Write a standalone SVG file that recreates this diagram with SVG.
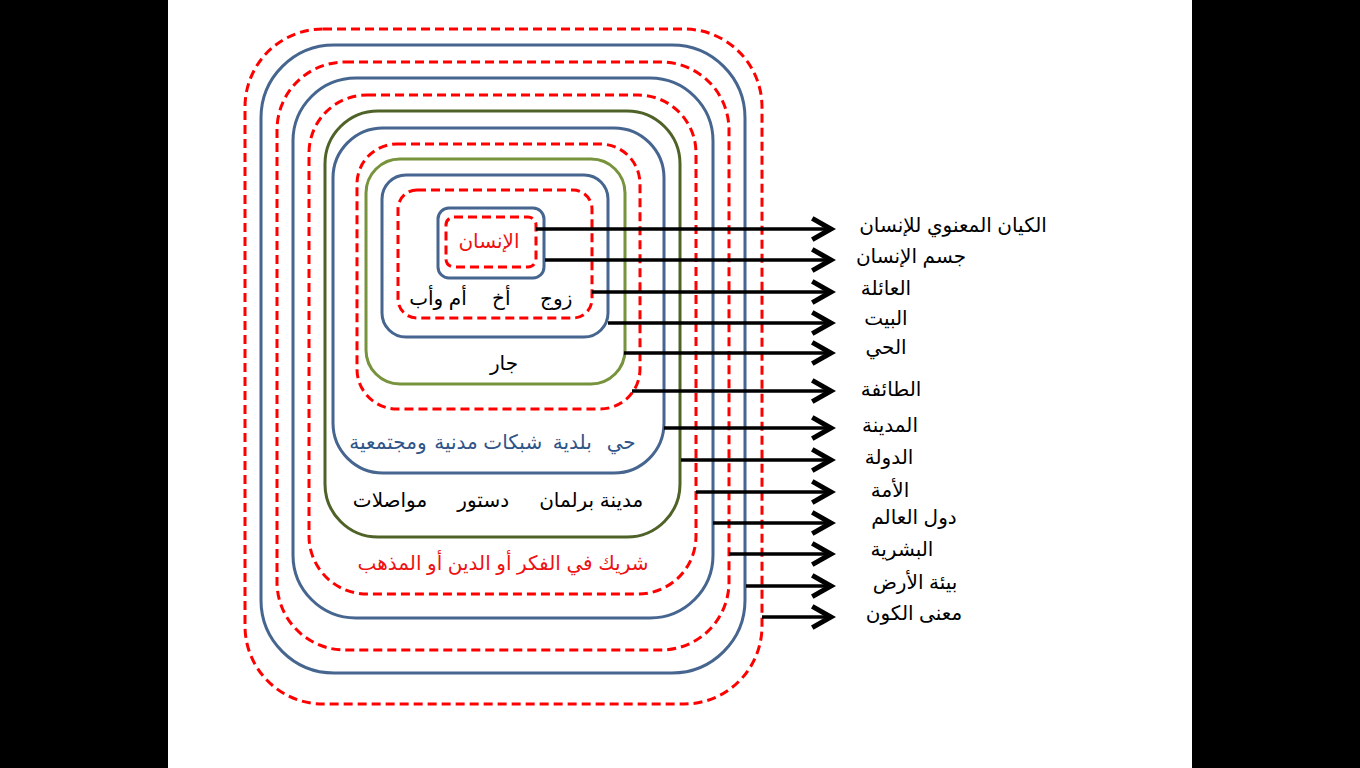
<svg xmlns="http://www.w3.org/2000/svg" width="1360" height="768" viewBox="0 0 1360 768">
<defs>
<style>
.red{fill:none;stroke:#ff0000;stroke-width:3;stroke-dasharray:9 5}
.blue{fill:none;stroke:#46658f;stroke-width:3}
.dg{fill:none;stroke:#4f6228;stroke-width:3}
.lg{fill:none;stroke:#77933c;stroke-width:3}
.arr{stroke:#000;stroke-width:3.5;fill:none;marker-end:url(#ah)}
text{font-family:"Liberation Sans","DejaVu Sans",sans-serif;font-size:20px;text-anchor:middle}
.lbl{fill:#000}
.tr{fill:#ee1111}
.tb{fill:#2f5487}
.tk{fill:#000}
</style>
<marker id="ah" markerUnits="userSpaceOnUse" markerWidth="30" markerHeight="30" refX="0" refY="0" viewBox="-20 -12 24 24" orient="auto">
<path d="M-15,-8.5 L0,0 L-15,8.5" fill="none" stroke="#000" stroke-width="4"/>
</marker>
</defs>
<rect x="0" y="0" width="1360" height="768" fill="#fff"/>
<rect x="0" y="0" width="168" height="768" fill="#000"/>
<rect x="1192" y="0" width="168" height="768" fill="#000"/>

<g id="shells">
<rect id="r1" class="red" x="245" y="29" width="517" height="675" rx="78"/>
<rect id="b1" class="blue" x="261" y="45" width="484" height="628" rx="73"/>
<rect id="r2" class="red" x="277" y="62" width="452" height="588" rx="68"/>
<rect id="b2" class="blue" x="293" y="78" width="420" height="540" rx="63"/>
<rect id="r3" class="red" x="309" y="95" width="387" height="499" rx="58"/>
<rect id="g1" class="dg" x="325" y="111" width="355" height="426" rx="53"/>
<rect id="b3" class="blue" x="333" y="128" width="331" height="345" rx="50"/>
<rect id="r4" class="red" x="357" y="144" width="283" height="265" rx="40"/>
<rect id="g2" class="lg" x="366" y="159" width="259" height="225" rx="34"/>
<rect id="b4" class="blue" x="382" y="175" width="226" height="162" rx="24"/>
<rect id="r5" class="red" x="398" y="190" width="194" height="128" rx="19"/>
<rect id="b5" class="blue" x="438" y="208" width="106" height="70" rx="11"/>
<rect id="r6" class="red" x="446" y="217" width="90" height="50" rx="8"/>
</g>

<g id="inner-texts">
<text class="tr" x="489" y="248">الإنسان</text>
<text class="tk" y="305"><tspan x="559">زوج </tspan><tspan x="504">أخ </tspan><tspan x="438">أم وأب</tspan></text>
<text class="tk" x="504" y="370">جار</text>
<text class="tb" y="449"><tspan x="624">حي </tspan><tspan x="575">بلدية </tspan><tspan x="491">شبكات مدنية </tspan><tspan x="388">ومجتمعية</tspan></text>
<text class="tk" y="507"><tspan x="594">مدينة برلمان </tspan><tspan x="486">دستور </tspan><tspan x="390">مواصلات</tspan></text>
<text class="tr" x="503" y="570">شريك في الفكر أو الدين أو المذهب</text>
</g>

<g id="connectors">
<line class="arr" x1="536" y1="229" x2="831" y2="229"/>
<line class="arr" x1="545" y1="260" x2="831" y2="260"/>
<line class="arr" x1="592" y1="292" x2="831" y2="292"/>
<line class="arr" x1="608" y1="323" x2="831" y2="323"/>
<line class="arr" x1="624" y1="353" x2="831" y2="353"/>
<line class="arr" x1="632" y1="391" x2="831" y2="391"/>
<line class="arr" x1="664" y1="428" x2="831" y2="428"/>
<line class="arr" x1="681" y1="460" x2="831" y2="460"/>
<line class="arr" x1="696" y1="492" x2="831" y2="492"/>
<line class="arr" x1="713" y1="523" x2="831" y2="523"/>
<line class="arr" x1="729" y1="554" x2="831" y2="554"/>
<line class="arr" x1="746" y1="586" x2="831" y2="586"/>
<line class="arr" x1="762" y1="617" x2="831" y2="617"/>
</g>

<g id="labels">
<text class="lbl" x="953" y="232">الكيان المعنوي للإنسان</text>
<text class="lbl" x="911" y="263">جسم الإنسان</text>
<text class="lbl" x="886" y="295">العائلة</text>
<text class="lbl" x="886" y="325">البيت</text>
<text class="lbl" x="886" y="354">الحي</text>
<text class="lbl" x="891" y="396">الطائفة</text>
<text class="lbl" x="890" y="432">المدينة</text>
<text class="lbl" x="889" y="464">الدولة</text>
<text class="lbl" x="890" y="497">الأمة</text>
<text class="lbl" x="914" y="524">دول العالم</text>
<text class="lbl" x="902" y="556">البشرية</text>
<text class="lbl" x="915" y="589">بيئة الأرض</text>
<text class="lbl" x="914" y="620">معنى الكون</text>
</g>
</svg>
